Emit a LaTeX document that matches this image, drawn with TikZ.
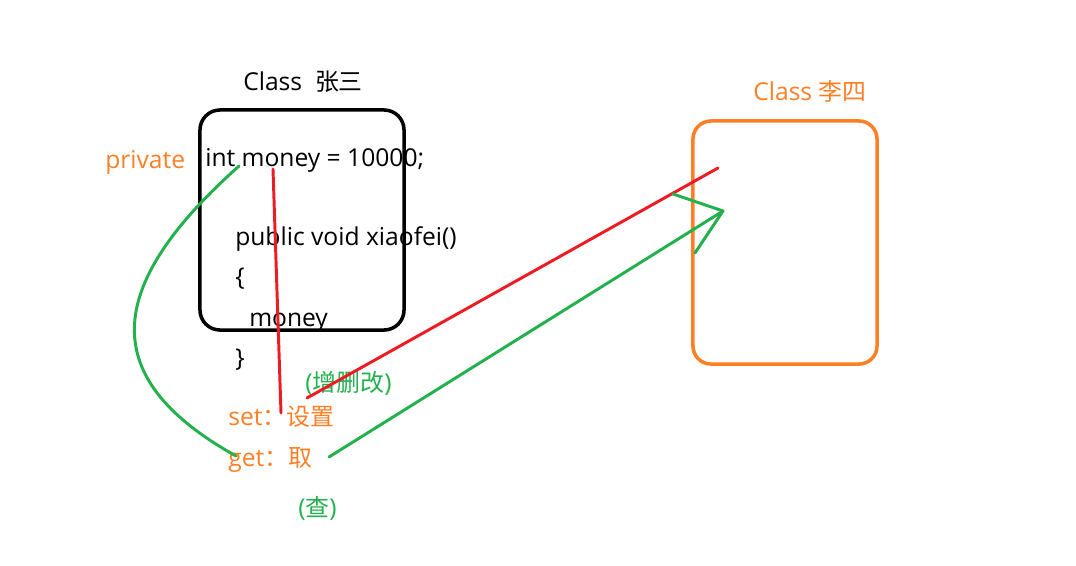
\documentclass[tikz,border=0pt]{standalone}
\usepackage{fontspec}
\setmainfont{Open Sans}[Scale=1.03]
\newfontfamily\cjk{Noto Sans CJK SC}
\usepackage{xcolor}
\usetikzlibrary{positioning}
\definecolor{paintorange}{HTML}{FF7F27}
\definecolor{paintgreen}{HTML}{22B14C}
\definecolor{paintred}{HTML}{ED1C24}

\begin{document}
\begin{tikzpicture}[x=0.025cm, y=-0.025cm, font=\fontsize{17}{20}\selectfont,
  txt/.style={anchor=base west, inner sep=0pt},
  classbox/.style={draw, line width=2.5pt, rounded corners=0.5cm, inner sep=0pt},
  pen/.style={line width=2.1pt, line cap=round, line join=round}]
   \useasboundingbox (0,0) rectangle (1076,565);
   \node[classbox, minimum width=5.1cm, minimum height=5.5cm] (zs_box) at (302,220) {};
   \node[classbox, draw=paintorange, minimum width=4.6cm, minimum height=6.075cm, rounded corners=0.45cm] (ls_box) at (785,242.5) {};

   \node[txt] (zs_title) at (243,90) {Class~~{\cjk 张三}};
   \node[txt, text=paintorange] (ls_title) at (753,100) {Class {\cjk 李四}};
   \node[txt, text=paintorange] (private) at (105,168) {private};
   \node[txt] (field) at (205,166) {int money = 10000;};
   \node[txt] (method) at (235,245) {public void xiaofei()};
   \node[txt] (open_br) at (235,285) {\{};
   \node[txt] (body) at (249,326) {money};
   \node[txt] (close_br) at (235,366) {\}};
   \node[txt, text=paintgreen] (crud) at (305,391) {({\cjk 增删改})};
   \node[txt, text=paintorange] (setter) at (228,425) {set{\cjk ：设置}};
   \node[txt, text=paintorange] (getter) at (228,466) {get{\cjk ：取}};
   \node[txt, text=paintgreen] (query) at (298,516) {({\cjk 查})};

   \coordinate (r_top) at (273,169);
   \coordinate (r_bot) at (281,413);
   \coordinate (r_from) at (307,398);
   \coordinate (r_to) at (718,168);
   \coordinate (g_top) at (239,166);
   \coordinate (g_bot) at (236,456);
   \coordinate (g_from) at (329,457);
   \coordinate (g_tip) at (723,211);
   \coordinate (g_wing1) at (673,194);
   \coordinate (g_wing2) at (695,253);

   \draw[pen, paintred] (r_top) -- (r_bot);
   \draw[pen, paintred] (r_from) -- (r_to);
   \draw[pen, paintgreen] (g_top) .. controls (100,290) and (100,380) .. (g_bot);
   \draw[pen, paintgreen] (g_from) -- (g_tip);
   \draw[pen, paintgreen] (g_wing1) -- (g_tip) -- (g_wing2);
\end{tikzpicture}
\end{document}
